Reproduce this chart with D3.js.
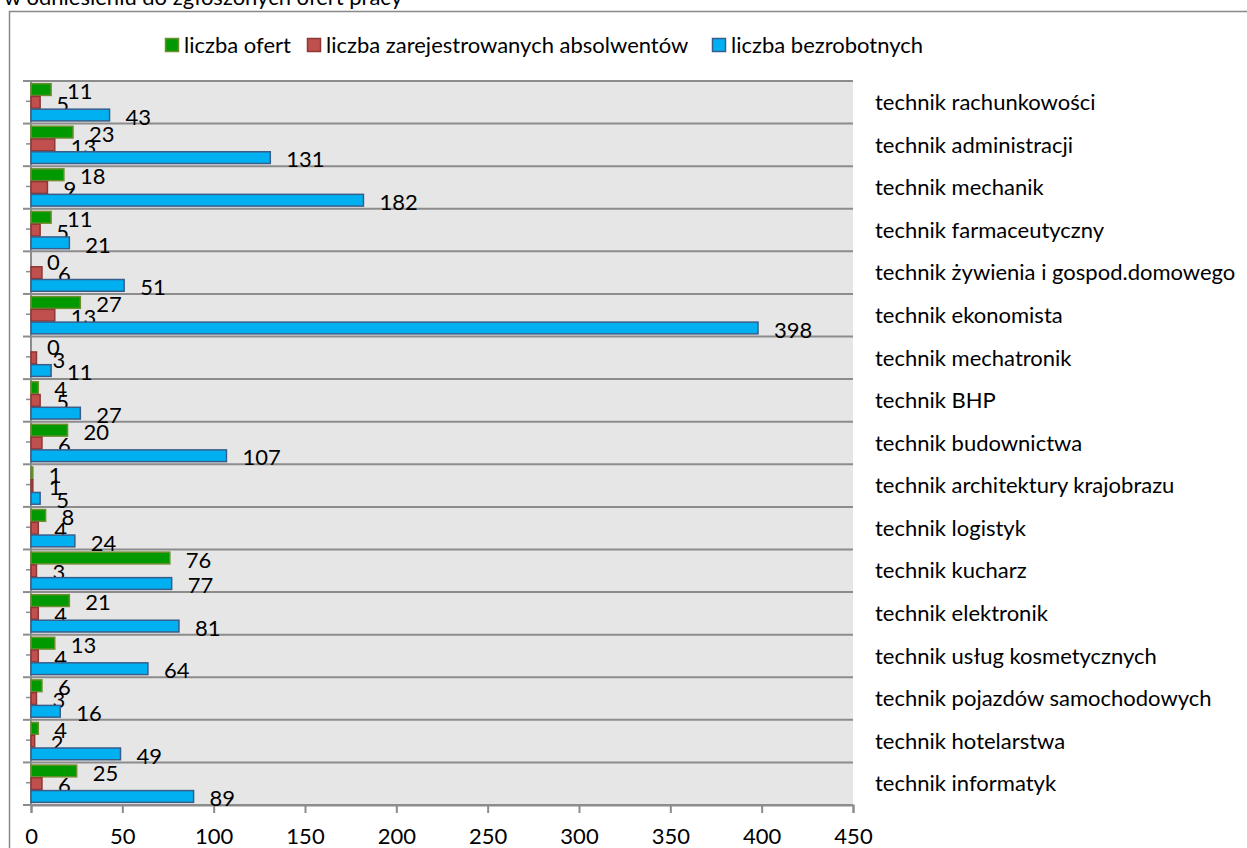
<!DOCTYPE html>
<html>
<head>
<meta charset="utf-8">
<script src="https://cdn.jsdelivr.net/npm/d3@7"></script>
<style>
  body { margin: 0; background: #fff; }
  svg text { font-family: Lato, "Open Sans", sans-serif; fill: #000; }
</style>
</head>
<body>
<div id="chart"></div>
<script>
var categories = ["technik rachunkowości", "technik administracji", "technik mechanik",
  "technik farmaceutyczny", "technik żywienia i gospod.domowego", "technik ekonomista",
  "technik mechatronik", "technik BHP", "technik budownictwa", "technik architektury krajobrazu",
  "technik logistyk", "technik kucharz", "technik elektronik", "technik usług kosmetycznych",
  "technik pojazdów samochodowych", "technik hotelarstwa", "technik informatyk"];

var oferty     = [11, 23, 18, 11, 0, 27, 0, 4, 20, 1, 8, 76, 21, 13, 6, 4, 25];
var absolwenci = [5, 13, 9, 5, 6, 13, 3, 5, 6, 1, 4, 3, 4, 4, 3, 2, 6];
var bezrobotni = [43, 131, 182, 21, 51, 398, 11, 27, 107, 5, 24, 77, 81, 64, 16, 49, 89];

var xTicks = [0, 50, 100, 150, 200, 250, 300, 350, 400, 450];

var seriesNames = ["liczba ofert", "liczba zarejestrowanych absolwentów", "liczba bezrobotnych"];

var series = [
  {name: seriesNames[0], values: oferty, fill: "#009900", stroke: "#6b8e2f"},
  {name: seriesNames[1], values: absolwenci, fill: "#c0504d", stroke: "#8c3836"},
  {name: seriesNames[2], values: bezrobotni, fill: "#00b0f0", stroke: "#385d8a"}
];

var width = 1247, height = 848;
var plot = {left: 31, right: 853, top: 81, bottom: 805};
var fontSize = "22px";

var svg = d3.select("#chart").append("svg")
    .attr("width", width)
    .attr("height", height);

// clipped title at the very top
svg.append("text")
    .attr("x", 4)
    .attr("y", 5)
    .style("font-size", fontSize)
    .text("w odniesieniu do zgłoszonych ofert pracy");

// chart frame
svg.append("rect")
    .attr("x", 9.5)
    .attr("y", 11.5)
    .attr("width", width + 20)
    .attr("height", height + 20)
    .style("fill", "#fff")
    .style("stroke", "#888")
    .style("stroke-width", 1.5);

var x = d3.scaleLinear()
    .domain([0, 450])
    .range([plot.left, plot.right]);

var y = d3.scaleBand()
    .domain(categories)
    .range([plot.top, plot.bottom]);

var inner = d3.scaleBand()
    .domain(d3.range(series.length))
    .range([0, y.bandwidth()])
    .paddingOuter(0.17)
    .paddingInner(0);

// plot area background
svg.append("rect")
    .attr("x", plot.left)
    .attr("y", plot.top)
    .attr("width", plot.right - plot.left)
    .attr("height", plot.bottom - plot.top)
    .style("fill", "#e6e6e6");

// horizontal gridlines at category boundaries
var bounds = categories.map(function(c){ return y(c); }).concat([plot.bottom]);
svg.selectAll(".grid")
    .data(bounds)
  .enter().append("line")
    .attr("class", "grid")
    .attr("x1", plot.left)
    .attr("x2", plot.right)
    .attr("y1", function(d){ return d; })
    .attr("y2", function(d){ return d; })
    .style("stroke", "#8c8c8c")
    .style("stroke-width", 2);

// left axis line and ticks
svg.append("line")
    .attr("x1", plot.left).attr("x2", plot.left)
    .attr("y1", plot.top).attr("y2", plot.bottom)
    .style("stroke", "#8c8c8c")
    .style("stroke-width", 2);

svg.selectAll(".ytick")
    .data(bounds)
  .enter().append("line")
    .attr("class", "ytick")
    .attr("x1", plot.left - 8).attr("x2", plot.left)
    .attr("y1", function(d){ return d; })
    .attr("y2", function(d){ return d; })
    .style("stroke", "#8c8c8c")
    .style("stroke-width", 2);

svg.selectAll(".ytick-mid")
    .data(categories)
  .enter().append("line")
    .attr("class", "ytick-mid")
    .attr("x1", plot.left - 5).attr("x2", plot.left)
    .attr("y1", function(d){ return y(d) + y.bandwidth() / 2 - 1; })
    .attr("y2", function(d){ return y(d) + y.bandwidth() / 2 - 1; })
    .style("stroke", "#8c8c8c")
    .style("stroke-width", 1.5);

// bottom axis
var xAxis = svg.append("g")
    .attr("transform", "translate(0," + plot.bottom + ")")
    .call(d3.axisBottom(x).tickValues(xTicks).tickSize(8).tickPadding(15));

xAxis.select(".domain").style("stroke", "#8c8c8c").style("stroke-width", 2);
xAxis.selectAll(".tick line").style("stroke", "#8c8c8c").style("stroke-width", 2);
xAxis.selectAll(".tick text")
    .style("font-family", "Lato, 'Open Sans', sans-serif")
    .style("font-size", fontSize)
    .style("fill", "#000");

// bars
var groups = svg.selectAll(".series")
    .data(series)
  .enter().append("g")
    .attr("class", "series");

groups.each(function(s, si){
  var g = d3.select(this);
  var rows = categories.map(function(c, i){ return {cat: c, value: s.values[i]}; });

  g.selectAll("rect")
      .data(rows.filter(function(d){ return d.value > 0; }))
    .enter().append("rect")
      .attr("x", x(0))
      .attr("y", function(d){ return y(d.cat) + inner(si) + 0.5; })
      .attr("width", function(d){ return x(d.value) - x(0); })
      .attr("height", inner.bandwidth() - 1)
      .style("fill", s.fill)
      .style("stroke", s.stroke)
      .style("stroke-width", 1.5);

  g.selectAll("text")
      .data(rows)
    .enter().append("text")
      .attr("x", function(d){ return x(d.value) + 16; })
      .attr("y", function(d){ return y(d.cat) + inner(si) + inner.bandwidth() / 2 + 2; })
      .attr("dy", "0.35em")
      .style("font-size", fontSize)
      .text(function(d){ return d.value; });
});

// category labels on the right
svg.selectAll(".cat-label")
    .data(categories)
  .enter().append("text")
    .attr("class", "cat-label")
    .attr("x", 875)
    .attr("y", function(d){ return y(d) + y.bandwidth() / 2; })
    .attr("dy", "0.35em")
    .style("font-size", fontSize)
    .text(function(d){ return d; });

// legend
var legendX = [165, 307, 712];
var legend = svg.selectAll(".legend")
    .data(series)
  .enter().append("g")
    .attr("class", "legend")
    .attr("transform", function(d, i){ return "translate(" + legendX[i] + ",38)"; });

legend.append("rect")
    .attr("x", 0.5).attr("y", 0.5)
    .attr("width", 13).attr("height", 13)
    .style("fill", function(d){ return d.fill; })
    .style("stroke", function(d){ return d.stroke; })
    .style("stroke-width", 1.5);

legend.append("text")
    .attr("x", 19)
    .attr("y", 7)
    .attr("dy", "0.35em")
    .style("font-size", fontSize)
    .text(function(d){ return d.name; });
</script>
</body>
</html>
